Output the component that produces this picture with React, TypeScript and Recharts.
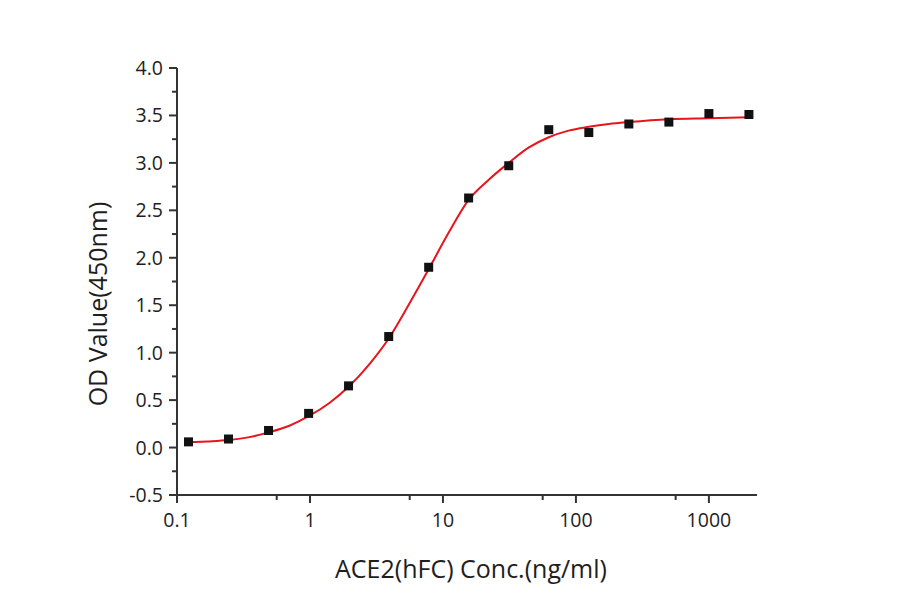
import React from 'react';
import { ComposedChart, XAxis, YAxis, Line, Scatter } from 'recharts';

// Measured points (concentration ng/ml, OD450)
const concentrations = [0.122, 0.244, 0.488, 0.977, 1.95, 3.91, 7.81, 15.6, 31.25, 62.5, 125, 250, 500, 1000, 2000];
const odValues = [0.06, 0.09, 0.18, 0.36, 0.65, 1.17, 1.9, 2.63, 2.97, 3.35, 3.32, 3.41, 3.43, 3.52, 3.51];

// Fitted curve
const curveX = [0.122, 0.17, 0.244, 0.35, 0.488, 0.7, 0.977, 1.4, 1.95, 2.8, 3.91, 5.5, 7.81, 11, 15.6, 22, 31.25, 44, 62.5, 88, 125, 177, 250, 500, 1000, 2000];
const curveY = [0.055, 0.065, 0.08, 0.11, 0.16, 0.23, 0.33, 0.47, 0.64, 0.88, 1.15, 1.5, 1.88, 2.26, 2.61, 2.82, 3.0, 3.16, 3.27, 3.34, 3.38, 3.41, 3.43, 3.46, 3.47, 3.48];

const xMajorTicks = [0.1, 1, 10, 100, 1000];
const xMinorTicks = [0.5623, 5.623, 56.23, 562.3];
const xTickLabels = ['0.1', '1', '10', '100', '1000'];
const yTicks = [-0.5, -0.25, 0, 0.25, 0.5, 0.75, 1, 1.25, 1.5, 1.75, 2, 2.25, 2.5, 2.75, 3, 3.25, 3.5, 3.75, 4];

const xTitle = 'ACE2(hFC) Conc.(ng/ml)';
const yTitle = 'OD Value(450nm)';

const pointData = concentrations.map((x, i) => ({ x, y: odValues[i] }));
const curveData = curveX.map((x, i) => ({ x, y: curveY[i] }));

const FONT = '"Open Sans", Lato, sans-serif';
const AXIS_COLOR = '#333';
const TEXT_COLOR = '#1e1e1e';

const XTick = (props: any) => {
  const { x, y, payload } = props;
  const v = payload.value;
  const idx = xMajorTicks.findIndex((m) => Math.abs(m - v) < 1e-9);
  const major = idx >= 0;
  return (
    <g>
      <line x1={x} x2={x} y1={y} y2={y + (major ? 8 : 5)} stroke={AXIS_COLOR} strokeWidth={2} />
      {major && (
        <text x={x} y={y + 32} textAnchor="middle" fontFamily={FONT} fontSize={19.5} fill={TEXT_COLOR}>
          {xTickLabels[idx]}
        </text>
      )}
    </g>
  );
};

const YTick = (props: any) => {
  const { x, y, payload } = props;
  const v = payload.value;
  const major = Math.abs(v * 2 - Math.round(v * 2)) < 1e-9;
  return (
    <g>
      <line x1={x} x2={x - (major ? 8 : 5)} y1={y} y2={y} stroke={AXIS_COLOR} strokeWidth={2} />
      {major && (
        <text x={x - 14} y={y + 7} textAnchor="end" fontFamily={FONT} fontSize={19.5} fill={TEXT_COLOR}>
          {v.toFixed(1)}
        </text>
      )}
    </g>
  );
};

const XTitle = (props: any) => {
  const vb = props.viewBox || {};
  return (
    <text x={vb.x + vb.width / 2 + 4} y={578} textAnchor="middle" fontFamily={FONT} fontSize={25} fill={TEXT_COLOR}>
      {xTitle}
    </text>
  );
};

const YTitle = () => (
  <text
    x={97}
    y={304}
    transform="rotate(-90 97 304)"
    textAnchor="middle"
    dominantBaseline="central"
    fontFamily={FONT}
    fontSize={25}
    fill={TEXT_COLOR}
  >
    {yTitle}
  </text>
);

const SquareMarker = (props: any) => {
  const { cx, cy } = props;
  if (cx == null || cy == null) return null;
  return <rect x={cx - 4.5} y={cy - 4.5} width={9} height={9} fill="#111" />;
};

export default function App() {
  return (
    <div style={{ position: 'absolute', left: 0, top: 0, width: 900, height: 594, background: '#fff' }}>
      <ComposedChart width={900} height={594} margin={{ top: 68, right: 143, bottom: 0, left: 0 }}>
        <XAxis
          dataKey="x"
          type="number"
          scale="log"
          domain={[0.1, 2300]}
          allowDataOverflow
          ticks={[...xMajorTicks, ...xMinorTicks].sort((a, b) => a - b)}
          interval={0}
          height={99}
          tickSize={0}
          tickMargin={0}
          tickLine={false}
          axisLine={{ stroke: AXIS_COLOR, strokeWidth: 2 }}
          tick={<XTick />}
          label={<XTitle />}
        />
        <YAxis
          dataKey="y"
          type="number"
          domain={[-0.5, 4]}
          allowDataOverflow
          ticks={yTicks}
          interval={0}
          width={177}
          tickSize={0}
          tickMargin={0}
          tickLine={false}
          axisLine={{ stroke: AXIS_COLOR, strokeWidth: 2 }}
          tick={<YTick />}
          label={<YTitle />}
        />
        <Line
          data={curveData}
          dataKey="y"
          type="monotone"
          stroke="#e8141c"
          strokeWidth={2}
          dot={false}
          activeDot={false}
          isAnimationActive={false}
        />
        <Scatter data={pointData} dataKey="y" shape={<SquareMarker />} isAnimationActive={false} />
      </ComposedChart>
    </div>
  );
}
